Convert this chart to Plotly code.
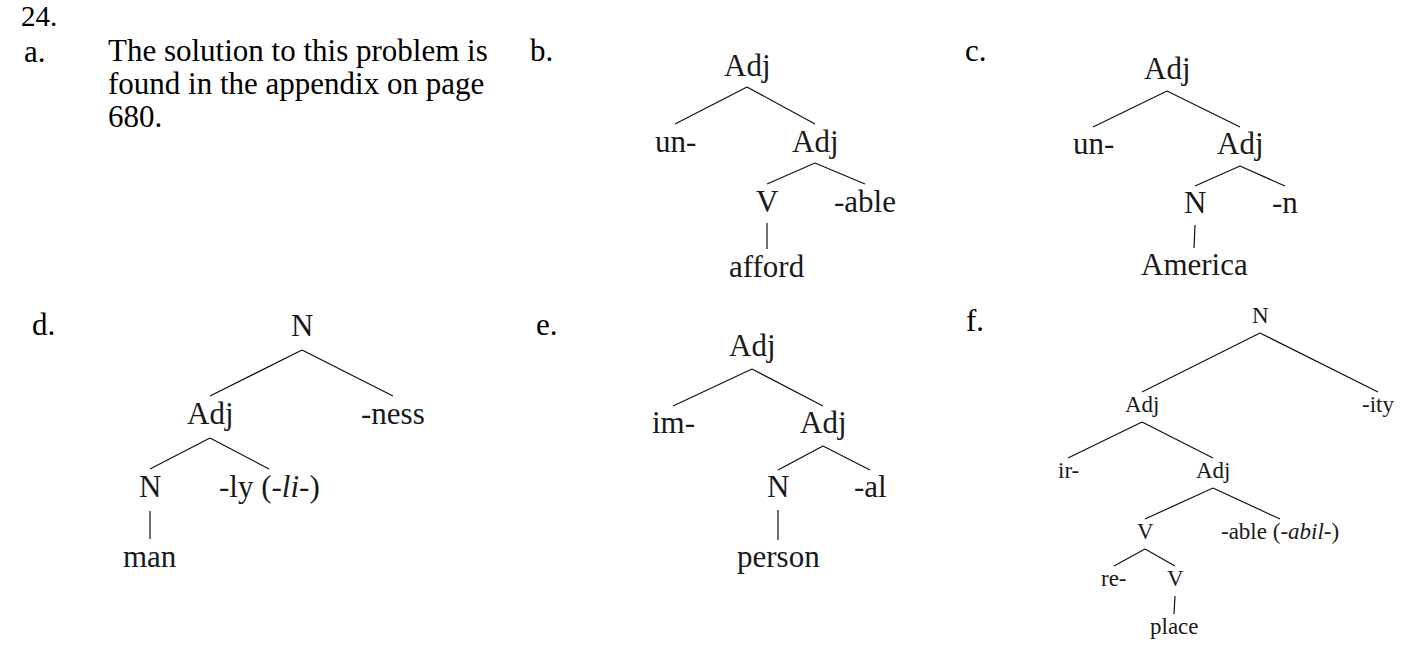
import plotly.graph_objects as go

# exercise text
heading = "24."
item_letters = ["a.", "b.", "c.", "d.", "e.", "f."]
letter_x = [35, 541, 976, 43, 547, 975]
letter_y = [53, 52, 52, 326, 326, 322]
answer_lines = ["The solution to this problem is",
                "found in the appendix on page",
                "680."]

# trees: labels, node positions (px from top-left), edges parent->child
b_labels = ["Adj", "un-", "Adj", "V", "-able", "afford"]
b_x = [747, 675, 815, 767, 865, 767]
b_y = [67, 143, 143, 203, 203, 268]
b_edges = [(0, 1), (0, 2), (2, 3), (2, 4), (3, 5)]

c_labels = ["Adj", "un-", "Adj", "N", "-n", "America"]
c_x = [1167, 1093, 1240, 1195, 1285, 1194]
c_y = [70, 145, 145, 204, 204, 266]
c_edges = [(0, 1), (0, 2), (2, 3), (2, 4), (3, 5)]

d_labels = ["N", "Adj", "-ness", "N", "-ly (-<i>li</i>-)", "man"]
d_x = [302, 210, 393, 150, 269, 150]
d_y = [327, 415, 415, 488, 488, 558]
d_edges = [(0, 1), (0, 2), (1, 3), (1, 4), (3, 5)]

e_labels = ["Adj", "im-", "Adj", "N", "-al", "person"]
e_x = [752, 673, 823, 778, 870, 778]
e_y = [347, 424, 424, 488, 488, 558]
e_edges = [(0, 1), (0, 2), (2, 3), (2, 4), (3, 5)]

f_labels = ["N", "Adj", "-ity", "ir-", "Adj", "V", "-able (-<i>abil</i>-)",
            "re-", "V", "place"]
f_x = [1260, 1142, 1378, 1068, 1213, 1145, 1280, 1114, 1175, 1174]
f_y = [317, 406, 406, 472, 472, 533, 533, 580, 580, 628]
f_edges = [(0, 1), (0, 2), (1, 3), (1, 4), (4, 5), (4, 6), (5, 7), (5, 8),
           (8, 9)]

SERIF = "Liberation Serif"

fig = go.Figure()
annotations = []


def add_tree(labels, xs, ys, edges, size, gap_top, gap_bottom):
    lx, ly = [], []
    for p, c in edges:
        lx += [xs[p], xs[c], None]
        ly += [ys[p] + gap_top, ys[c] - gap_bottom, None]
    fig.add_trace(go.Scatter(x=lx, y=ly, mode="lines",
                             line=dict(color="#111111", width=1.2),
                             hoverinfo="skip", showlegend=False))
    for t, x, y in zip(labels, xs, ys):
        annotations.append(dict(x=x, y=y - 2, text=t, showarrow=False,
                                xanchor="center", yanchor="middle",
                                font=dict(family=SERIF, size=size,
                                          color="#1a1a1a")))


add_tree(b_labels, b_x, b_y, b_edges, 31, 20, 19)
add_tree(c_labels, c_x, c_y, c_edges, 31, 21, 18)
add_tree(d_labels, d_x, d_y, d_edges, 31, 23, 19)
add_tree(e_labels, e_x, e_y, e_edges, 31, 22, 18)
add_tree(f_labels, f_x, f_y, f_edges, 23, 16, 14)

# heading kept just inside the top edge
annotations.append(dict(x=20, y=16, text=heading, showarrow=False,
                        xanchor="left", yanchor="middle", borderpad=0,
                        font=dict(family=SERIF, size=29, color="black")))
for t, x, y in zip(item_letters, letter_x, letter_y):
    annotations.append(dict(x=x, y=y - 2, text=t, showarrow=False,
                            xanchor="center", yanchor="middle", borderpad=0,
                            font=dict(family=SERIF, size=31, color="black")))
for i, t in enumerate(answer_lines):
    annotations.append(dict(x=106, y=50 + 33 * i, text=t, showarrow=False,
                            xanchor="left", yanchor="middle",
                            font=dict(family=SERIF, size=31, color="black")))

fig.update_layout(
    width=1424, height=672,
    margin=dict(l=0, r=0, t=0, b=0),
    paper_bgcolor="white", plot_bgcolor="white",
    xaxis=dict(range=[0, 1424], visible=False, fixedrange=True),
    yaxis=dict(range=[672, 0], visible=False, fixedrange=True),
    annotations=annotations,
    showlegend=False,
)

# drop the default page margin so the figure sits at the window corner
fig.write_html("out.html",
               config={"displayModeBar": False},
               post_script="document.body.style.margin='0';")
